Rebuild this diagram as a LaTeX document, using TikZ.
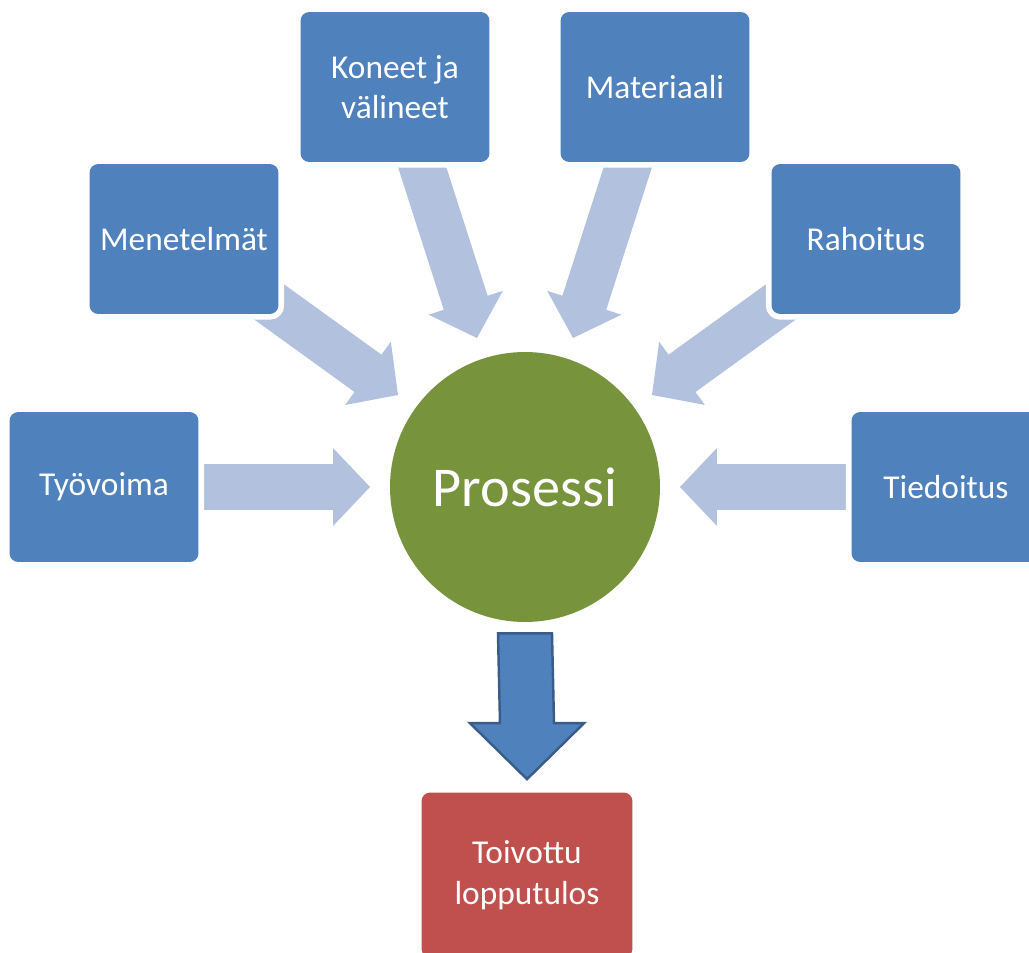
\documentclass[tikz,border=0pt]{standalone}
\usepackage{fontspec}
\setmainfont{Carlito}
\usetikzlibrary{calc}
\definecolor{boxblue}{HTML}{4F81BD}
\definecolor{darkblue}{HTML}{385D8A}
\definecolor{lightarrow}{HTML}{B2C2DE}
\definecolor{procgreen}{HTML}{77933C}
\definecolor{resred}{HTML}{C0504D}
\newcommand\blockarrow[2]{% #1 start coordinate name, #2 tip coordinate name
  \fill[lightarrow]
    ($(#1)!0.46cm!-90:(#2)$) --
    ($($(#2)!0.74cm!(#1)$)!0.46cm!-90:(#2)$) --
    ($($(#2)!0.74cm!(#1)$)!0.78cm!-90:(#2)$) --
    (#2) --
    ($($(#2)!0.74cm!(#1)$)!0.78cm!90:(#2)$) --
    ($($(#2)!0.74cm!(#1)$)!0.46cm!90:(#2)$) --
    ($(#1)!0.46cm!90:(#2)$) -- cycle;}
\begin{document}
\begin{tikzpicture}[x=0.02cm,y=-0.02cm,
  inbox/.style={rectangle, rounded corners=5pt, fill=boxblue,
    preaction={draw=white, line width=6.5pt},
    minimum width=3.78cm, minimum height=3.0cm,
    text=white, font=\fontsize{19}{23}\selectfont, align=center, inner sep=2pt},
  resbox/.style={inbox, fill=resred, minimum width=4.22cm, minimum height=3.3cm},
  proc/.style={circle, fill=procgreen, minimum size=5.4cm, inner sep=0pt,
    text=white, font=\fontsize{32}{38}\selectfont}]
\useasboundingbox (0,0) rectangle (1029,953);
\clip (0,0) rectangle (1029,953);

% arrow end points
\coordinate (s1) at (180,487);  \coordinate (t1) at (370,487);
\coordinate (s2) at (236,278);  \coordinate (t2) at (398,395);
\coordinate (s3) at (416,148);  \coordinate (t3) at (477,338);
\coordinate (s4) at (634,148);  \coordinate (t4) at (573,338);
\coordinate (s5) at (814,278);  \coordinate (t5) at (652,395);
\coordinate (s6) at (870,487);  \coordinate (t6) at (680,487);

\blockarrow{s1}{t1}
\blockarrow{s2}{t2}
\blockarrow{s3}{t3}
\blockarrow{s4}{t4}
\blockarrow{s5}{t5}
\blockarrow{s6}{t6}

% boxes
\node[inbox] (tyo) at (104,487) {Työvoima};
\node[inbox] (men) at (184,239) {Menetelmät};
\node[inbox] (kon) at (395,87) {Koneet ja\\välineet};
\node[inbox] (mat) at (655,87) {Materiaali};
\node[inbox] (rah) at (866,239) {Rahoitus};
\node[inbox] (tie) at (946,487) {Tiedoitus};

\node[proc] (pro) at (525,487) {Prosessi};

\node[resbox] (res) at (527,875) {Toivottu\\lopputulos};

% down arrow from process to result
\coordinate (dtop) at ($(pro.south)+(0,11)$);
\coordinate (dtip) at ($(res.north)+(0,-13)$);
\draw[fill=boxblue, draw=darkblue, line width=1.4pt, line join=miter]
  ($(dtop)+(-27,0)$) -- ($(dtop)+(27,0)$) -- ($(dtip)+(27,-56)$) --
  ($(dtip)+(57,-56)$) -- (dtip) -- ($(dtip)+(-57,-56)$) --
  ($(dtip)+(-27,-56)$) -- cycle;
\end{tikzpicture}
\end{document}
